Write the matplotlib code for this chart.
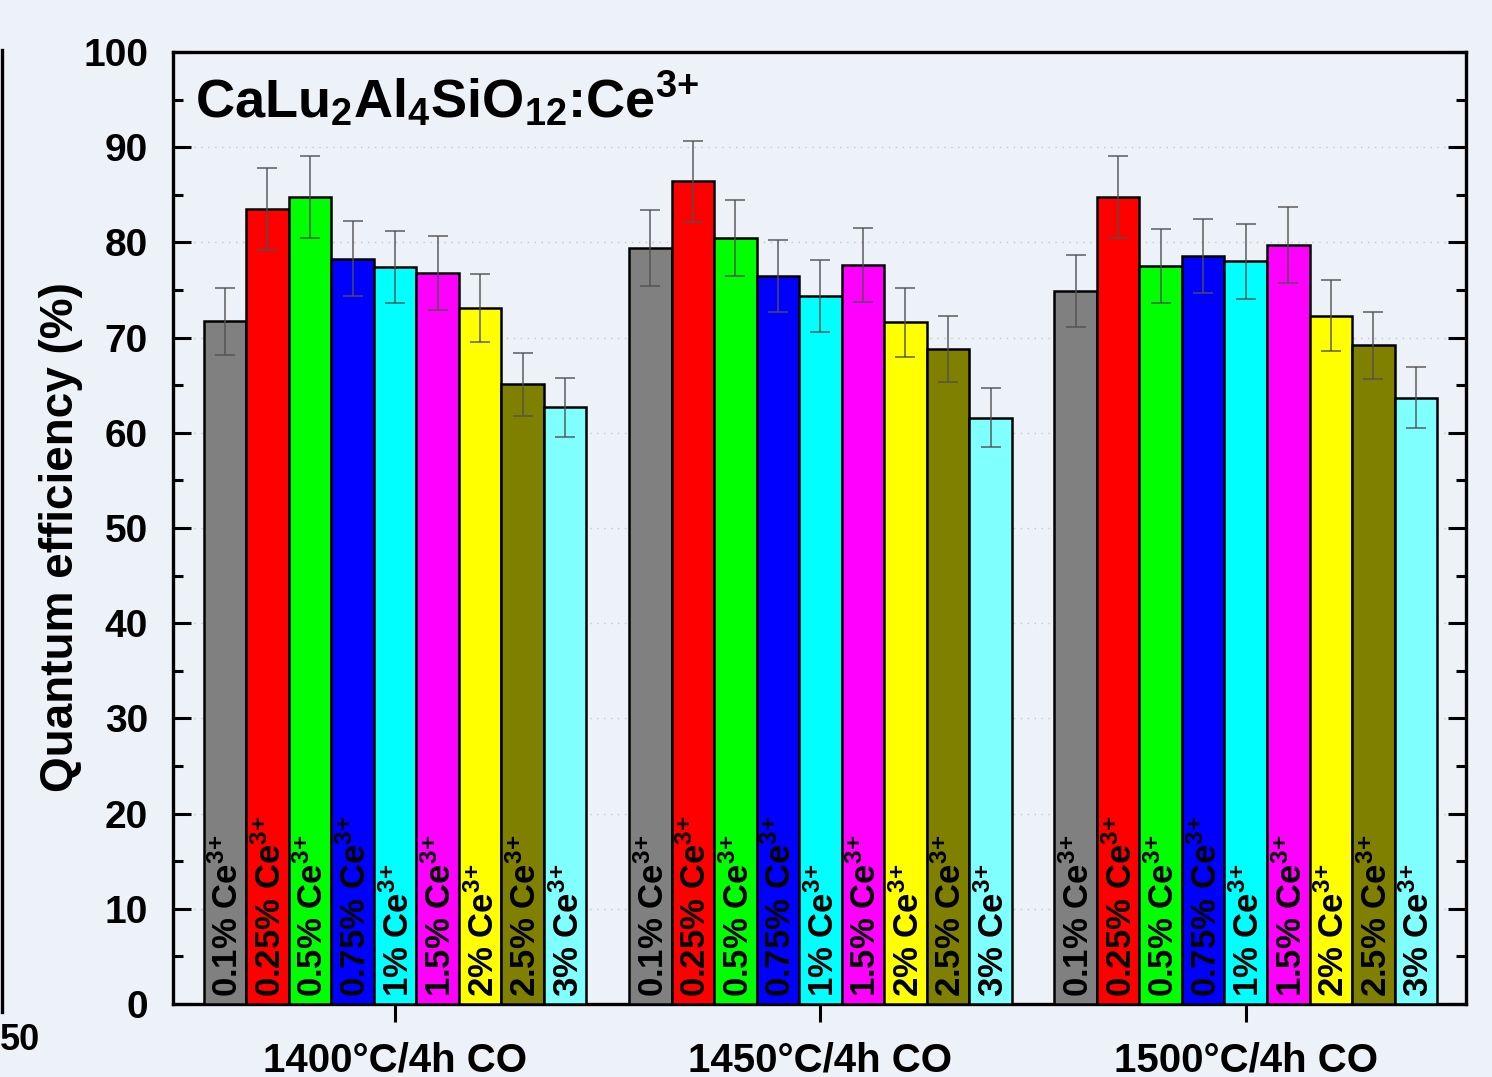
import numpy as np
import matplotlib
matplotlib.use("Agg")
import matplotlib.pyplot as plt
from matplotlib.lines import Line2D

plt.rcParams['font.family'] = ['Liberation Sans', 'DejaVu Sans']
plt.rcParams['font.weight'] = 'bold'
plt.rcParams['mathtext.fontset'] = 'custom'
plt.rcParams['mathtext.bf'] = 'Liberation Sans:bold'
plt.rcParams['mathtext.rm'] = 'Liberation Sans:bold'
plt.rcParams['mathtext.it'] = 'Liberation Sans:bold'

groups = ['1400°C/4h CO', '1450°C/4h CO', '1500°C/4h CO']
concentrations = ['0.1%', '0.25%', '0.5%', '0.75%', '1%', '1.5%', '2%', '2.5%', '3%']
colors = ['#808080', '#FF0000', '#00FF00', '#0000FF', '#00FFFF',
          '#FF00FF', '#FFFF00', '#808000', '#80FFFF']

qe_1400 = [71.7, 83.5, 84.8, 78.3, 77.4, 76.8, 73.1, 65.1, 62.7]
qe_1450 = [79.4, 86.4, 80.5, 76.5, 74.4, 77.6, 71.6, 68.8, 61.6]
qe_1500 = [74.9, 84.8, 77.5, 78.6, 78.0, 79.7, 72.3, 69.2, 63.7]
err_1400 = [3.5, 4.3, 4.3, 3.9, 3.8, 3.9, 3.6, 3.3, 3.1]
err_1450 = [4.0, 4.3, 4.0, 3.8, 3.8, 3.9, 3.6, 3.5, 3.1]
err_1500 = [3.8, 4.3, 3.9, 3.9, 3.9, 4.0, 3.7, 3.5, 3.2]

values = [qe_1400, qe_1450, qe_1500]
errors = [err_1400, err_1450, err_1500]

bg = '#EDF2F9'
fig = plt.figure(figsize=(14.92, 10.77), dpi=100, facecolor=bg)
ax = fig.add_axes([0.116, 0.0678, 0.8666, 0.8839])
ax.set_facecolor(bg)

width = 0.1
n = len(concentrations)
gx = np.arange(len(groups))
for gi in range(len(groups)):
    for ci in range(n):
        x = gx[gi] + (ci - (n - 1) / 2) * width
        ax.bar(x, values[gi][ci], width=width, color=colors[ci],
               edgecolor='black', linewidth=1.8, zorder=3)
        ax.errorbar(x, values[gi][ci], yerr=errors[gi][ci], fmt='none',
                    ecolor='#505050', elinewidth=1.2, capsize=7.5,
                    capthick=1.2, zorder=4, alpha=0.85)
        lab = concentrations[ci] + ' Ce$^{3{+}}$'
        ax.text(x + 0.007, 0.7, lab, rotation=90, ha='center', va='bottom',
                fontsize=25, fontweight='bold', color='black', zorder=5)

ax.set_xlim(-0.522, 2.518)
ax.set_ylim(0, 100)
ax.set_xticks(gx)
ax.set_xticklabels(groups, fontsize=29, fontweight='bold')
ax.set_yticks(np.arange(0, 101, 10))
ax.set_yticks(np.arange(5, 100, 10), minor=True)
ax.tick_params(axis='y', which='major', direction='in', length=13, width=2.2,
               labelsize=28, left=True, right=True, pad=18)
ax.tick_params(axis='y', which='minor', direction='in', length=7, width=2.2,
               left=True, right=True)
ax.tick_params(axis='x', which='major', direction='out', length=13, width=2.2,
               top=False, pad=14)
for t in ax.get_yticklabels():
    t.set_fontweight('bold')
for s in ax.spines.values():
    s.set_linewidth(2.4)

ax.yaxis.grid(True, which='major', linestyle=(0, (1, 4)), color='#C8C8C8',
              linewidth=1.0, zorder=0)
ax.set_axisbelow(True)

ax.set_ylabel('Quantum efficiency (%)', fontsize=33, fontweight='bold')
ax.yaxis.set_label_coords(-0.07, 0.49)

ax.text(0.017, 0.931, 'CaLu$_2$Al$_4$SiO$_{12}$:Ce$^{3{+}}$',
        transform=ax.transAxes, fontsize=39, fontweight='bold',
        ha='left', va='baseline', zorder=6)

# partial neighbouring panel at the left edge
fig.add_artist(Line2D([0.0015, 0.0015], [1 - 50 / 1077, 1 - 1012 / 1077],
                      transform=fig.transFigure, color='black', linewidth=2.4))
fig.text(0.0, 1 - 1040 / 1077, '50', fontsize=26, fontweight='bold',
         ha='left', va='center')

fig.savefig('out.png', dpi=100, facecolor=bg)
